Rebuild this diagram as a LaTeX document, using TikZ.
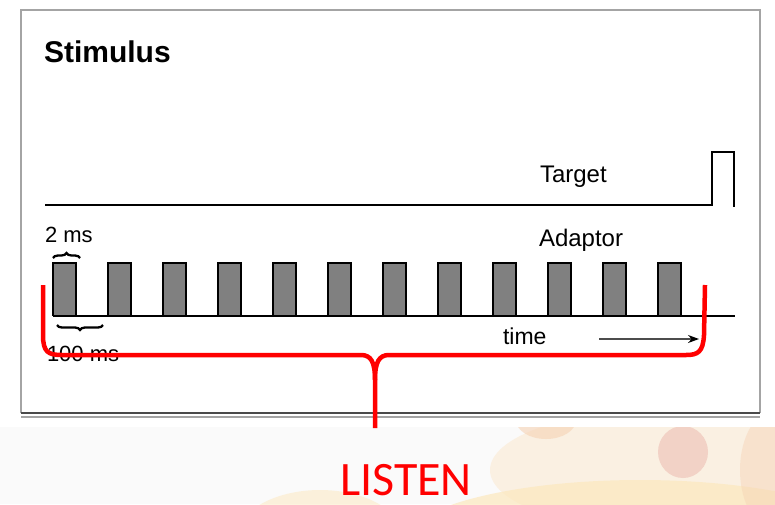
\documentclass[tikz,border=0pt]{standalone}
\usepackage{fontspec}
\setmainfont{Liberation Sans}
\newfontfamily\listenfont{Carlito}
\usetikzlibrary{arrows.meta,decorations.pathreplacing,positioning}

\definecolor{pulsegray}{HTML}{808080}
\definecolor{framegray}{HTML}{A4A4A4}
\definecolor{shadowgray}{HTML}{4A4A4A}
\definecolor{listenred}{HTML}{FF0000}
\definecolor{creamback}{HTML}{FBEEDC}
\definecolor{peachblob}{HTML}{F6D2B4}
\definecolor{pinkblob}{HTML}{F2D2C6}
\definecolor{yellowblob}{HTML}{FCE8BE}

\tikzset{
  wave/.style={line width=2.6pt,line join=miter},
  lbl/.style={anchor=base west,inner sep=0pt,outer sep=0pt},
  brc/.style={decorate,decoration={brace,amplitude=5pt},line width=2.3pt},
}

\begin{document}
\begin{tikzpicture}[x=1pt,y=-1pt,>=Stealth]
  \useasboundingbox (0,0) rectangle (775,504);
  \fill[white] (0,0) rectangle (775,427);

  % faded backdrop under the panel
  \begin{scope}
    \clip (0,427) rectangle (775,504);
    \fill[white!98!black] (0,427) rectangle (775,504);
    \fill[creamback,opacity=0.8] (660,470) ellipse (170 and 60);
    \fill[yellowblob,opacity=0.7] (640,545) ellipse (240 and 65);
    \fill[yellowblob,opacity=0.5] (320,540) ellipse (85 and 50);
    \fill[peachblob,opacity=0.6] (546,420) ellipse (30 and 19);
    \fill[pinkblob] (683,452) ellipse (25 and 26);
    \fill[peachblob,opacity=0.45] (775,470) ellipse (35 and 60);
  \end{scope}

  % panel frame
  \draw[framegray,line width=1.5pt] (21,413) -- (21,10) -- (760,10) -- (760,413);
  \draw[shadowgray,line width=1.6pt] (21,413) -- (760,413);
  \draw[framegray,line width=1.6pt] (21,417) -- (760,417);

  \node[lbl,font=\bfseries\fontsize{30}{34}\selectfont] (stim) at (44,62) {Stimulus};

  % target: flat line, one pulse at the end
  \node[lbl,font=\fontsize{24}{28}\selectfont] (target) at (540,182) {Target};
  \draw[wave] (45,205) -- (712,205) -- (712,152) -- (734,152) -- (734,207);

  % adaptor pulse train
  \node[lbl,font=\fontsize{24}{28}\selectfont] (adaptor) at (539,246) {Adaptor};
  \foreach \i in {0,...,11} {
    \pgfmathsetmacro{\xa}{53+55*\i}
    \pgfmathsetmacro{\xb}{\xa+23}
    \fill[pulsegray] (\xa,263) rectangle (\xb,316);
    \draw[wave] (\xa,316) -- (\xa,263) -- (\xb,263) -- (\xb,316);
  }
  \draw[wave] (53,316) -- (735,316);

  % widths
  \node[lbl,font=\fontsize{22}{26}\selectfont] (width) at (45,242) {2 ms};
  \draw[brc] (53,258) -- (80,258);
  \draw[brc,decoration={mirror}] (57,325) -- (103,325);
  \node[lbl,font=\fontsize{22}{26}\selectfont] (period) at (47,361) {100 ms};

  % time axis
  \node[lbl,font=\fontsize{23}{27}\selectfont] (time) at (503,344) {time};
  \coordinate (tfrom) at (599,339);
  \coordinate (tto) at (699,339);
  \draw[black!70,line width=1.2pt,-{Stealth[black,length=11pt,width=8pt]}] (tfrom) -- (tto);

  % red brace over the whole train
  \draw[listenred,line width=4.5pt]
    (43,285) -- (43,335) .. controls (43,352) and (48,355) .. (62,355)
    -- (361,355) .. controls (371,355) and (375,362) .. (375,380) -- (375,428);
  \draw[listenred,line width=4.5pt]
    (705,285) -- (704,335) .. controls (703,352) and (698,355) .. (686,355)
    -- (389,355) .. controls (379,355) and (375,362) .. (375,380);

  \node[anchor=base,inner sep=0pt,text=listenred,font=\listenfont\fontsize{48}{52}\selectfont] (listen) at (406,495) {LISTEN};
\end{tikzpicture}
\end{document}
